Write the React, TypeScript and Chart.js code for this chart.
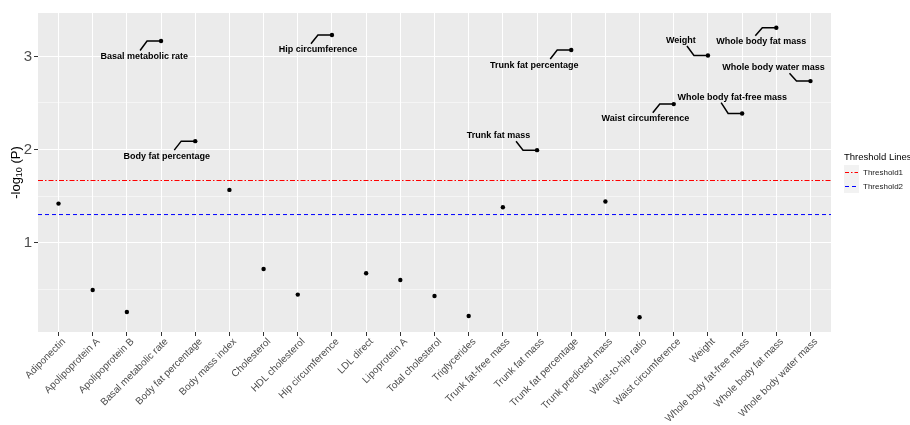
import React, { useEffect, useRef } from "react";
import { Chart, registerables } from "chart.js";

Chart.register(...registerables);

const categories = [
  "Adiponectin", "Apolipoprotein A", "Apolipoprotein B", "Basal metabolic rate",
  "Body fat percentage", "Body mass index", "Cholesterol", "HDL cholesterol",
  "Hip circumference", "LDL direct", "Lipoprotein A", "Total cholesterol",
  "Triglycerides", "Trunk fat-free mass", "Trunk fat mass", "Trunk fat percentage",
  "Trunk predicted mass", "Waist-to-hip ratio", "Waist circumference", "Weight",
  "Whole body fat-free mass", "Whole body fat mass", "Whole body water mass",
];

const logP = [
  1.419, 0.49, 0.254, 3.166, 2.09, 1.566, 0.716, 0.441, 3.23, 0.67, 0.598, 0.426,
  0.211, 1.38, 1.993, 3.069, 1.441, 0.197, 2.488, 3.011, 2.387, 3.309, 2.735,
];

const threshold1 = 1.667;
const threshold2 = 1.301;

const yTicks = [0.5, 1, 1.5, 2, 2.5, 3];
const yMin = 0.039;
const yMax = 3.467;

// Labelled points (ggrepel style)
const labelNames = [
  "Basal metabolic rate", "Body fat percentage", "Hip circumference",
  "Trunk fat mass", "Trunk fat percentage", "Waist circumference", "Weight",
  "Whole body fat-free mass", "Whole body fat mass", "Whole body water mass",
];
const labelDx = [-0.49, -0.83, -0.41, -1.13, -1.08, -0.83, -0.79, -0.29, -0.44, -1.08];
const labelY = [3.0, 1.929, 3.072, 2.147, 2.908, 2.33, 3.172, 2.563, 3.158, 2.878];

const FONT = '"Liberation Sans", Arial, Helvetica, sans-serif';

const decorPlugin = {
  id: "decor",
  beforeDraw(chart: any) {
    const { ctx, chartArea } = chart;
    ctx.save();
    ctx.fillStyle = "#ffffff";
    ctx.fillRect(0, 0, chart.width, chart.height);
    ctx.fillStyle = "#EBEBEB";
    ctx.fillRect(chartArea.left, chartArea.top, chartArea.right - chartArea.left, chartArea.bottom - chartArea.top);
    ctx.restore();
  },
  afterDatasetsDraw(chart: any) {
    const { ctx, chartArea } = chart;
    const xs = chart.scales.x;
    const ys = chart.scales.y;
    ctx.save();
    // repel labels and leader segments
    ctx.font = `bold 9px ${FONT}`;
    ctx.textAlign = "center";
    ctx.textBaseline = "middle";
    labelNames.forEach((name, k) => {
      const idx = categories.indexOf(name);
      const px = xs.getPixelForValue(idx);
      const py = ys.getPixelForValue(logP[idx]);
      const lx = xs.getPixelForValue(idx + labelDx[k]);
      const ly = ys.getPixelForValue(labelY[k]);
      const ex = px - 14;
      const endY = ly > py ? ly - 6 : ly + 5.5;
      ctx.strokeStyle = "#000";
      ctx.lineWidth = 1.5;
      ctx.beginPath();
      ctx.moveTo(px, py);
      ctx.lineTo(ex, py);
      ctx.lineTo(ex - 7, endY);
      ctx.stroke();
      ctx.fillStyle = "#000";
      ctx.fillText(name, lx, ly);
    });

    // x tick labels
    ctx.font = `10px ${FONT}`;
    ctx.fillStyle = "#4D4D4D";
    ctx.textAlign = "right";
    ctx.textBaseline = "top";
    categories.forEach((c, i) => {
      const x = xs.getPixelForValue(i);
      ctx.save();
      ctx.translate(x + 2, chartArea.bottom + 4.5);
      ctx.rotate(-Math.PI / 4);
      ctx.fillText(c, 0, 0);
      ctx.restore();
    });

    // y axis title with subscript
    ctx.save();
    const cy = (chartArea.top + chartArea.bottom) / 2;
    ctx.translate(16, cy);
    ctx.rotate(-Math.PI / 2);
    ctx.fillStyle = "#000";
    ctx.textAlign = "left";
    ctx.textBaseline = "middle";
    const big = `13px ${FONT}`;
    const small = `9px ${FONT}`;
    ctx.font = big;
    const w1 = ctx.measureText("-log").width;
    const w3 = ctx.measureText(" (P)").width;
    ctx.font = small;
    const w2 = ctx.measureText("10").width;
    const total = w1 + w2 + w3;
    let tx = -total / 2;
    ctx.font = big;
    ctx.fillText("-log", tx, 0);
    tx += w1;
    ctx.font = small;
    ctx.fillText("10", tx, 4);
    tx += w2;
    ctx.font = big;
    ctx.fillText(" (P)", tx, 0);
    ctx.restore();

    // legend
    const lx0 = chartArea.right + 13;
    ctx.fillStyle = "#000";
    ctx.textAlign = "left";
    ctx.textBaseline = "middle";
    ctx.font = `9.5px ${FONT}`;
    ctx.fillText("Threshold Lines", lx0, 157);
    const keys = [
      { label: "Threshold1", color: "#FF0000", dash: [4, 2, 1.5, 2] },
      { label: "Threshold2", color: "#0000FF", dash: [4, 3] },
    ];
    keys.forEach((k, j) => {
      const top = 165 + j * 14;
      ctx.fillStyle = "#F2F2F2";
      ctx.fillRect(lx0, top, 15, 14);
      ctx.strokeStyle = k.color;
      ctx.lineWidth = 1;
      ctx.setLineDash(k.dash);
      ctx.beginPath();
      ctx.moveTo(lx0 + 1, top + 7.5);
      ctx.lineTo(lx0 + 14, top + 7.5);
      ctx.stroke();
      ctx.setLineDash([]);
      ctx.fillStyle = "#1A1A1A";
      ctx.font = `8px ${FONT}`;
      ctx.fillText(k.label, lx0 + 19, top + 7.5);
    });
    ctx.restore();
  },
};

export default function App() {
  const ref = useRef<HTMLCanvasElement | null>(null);
  useEffect(() => {
    if (!ref.current) return;
    const points = logP.map((v, i) => ({ x: i, y: v }));
    const chart = new Chart(ref.current, {
      type: "scatter",
      data: {
        datasets: [
          {
            label: "Threshold1",
            data: [{ x: -0.6, y: threshold1 }, { x: categories.length - 0.4, y: threshold1 }],
            showLine: true,
            borderColor: "#FF0000",
            borderWidth: 1,
            borderDash: [5, 2, 1.5, 2],
            pointRadius: 0,
          },
          {
            label: "Threshold2",
            data: [{ x: -0.6, y: threshold2 }, { x: categories.length - 0.4, y: threshold2 }],
            showLine: true,
            borderColor: "#0000FF",
            borderWidth: 1,
            borderDash: [4, 3],
            pointRadius: 0,
          },
          {
            label: "points",
            data: points,
            pointRadius: 2.2,
            pointBackgroundColor: "#000",
            pointBorderColor: "#000",
            pointBorderWidth: 0,
          },
        ],
      },
      options: {
        responsive: false,
        animation: false,
        devicePixelRatio: 1,
        layout: { padding: { left: 0, top: 13, right: 79, bottom: 0 } },
        plugins: { legend: { display: false }, tooltip: { enabled: false } },
        scales: {
          x: {
            type: "linear",
            min: -0.6,
            max: categories.length - 0.4,
            afterBuildTicks: (axis: any) => {
              axis.ticks = categories.map((_, i) => ({ value: i }));
            },
            afterFit: (axis: any) => {
              axis.height = 93;
            },
            ticks: { display: false },
            grid: {
              color: "#FFFFFF",
              lineWidth: 1,
              tickColor: "#333333",
              tickLength: 4,
              drawTicks: true,
            },
            border: { display: false },
          },
          y: {
            type: "linear",
            min: yMin,
            max: yMax,
            afterBuildTicks: (axis: any) => {
              axis.ticks = yTicks.map((v) => ({ value: v }));
            },
            afterFit: (axis: any) => {
              axis.width = 38;
            },
            ticks: {
              font: { size: 15, family: FONT },
              color: "#4D4D4D",
              padding: 2,
              callback: (v: any) => (Number(v) % 1 === 0 ? String(v) : ""),
            },
            grid: {
              color: "#FFFFFF",
              lineWidth: (c: any) => (c.tick && c.tick.value % 1 === 0 ? 1 : 0.5),
              tickColor: (c: any) => (c.tick && c.tick.value % 1 === 0 ? "#333333" : "rgba(0,0,0,0)"),
              tickLength: 4,
              drawTicks: true,
            },
            border: { display: false },
          },
        },
      },
      plugins: [decorPlugin],
    } as any);
    return () => chart.destroy();
  }, []);
  return (
    <div style={{ position: "fixed", left: 0, top: 0, width: 910, height: 425, background: "#fff" }}>
      <canvas ref={ref} width={910} height={425} style={{ width: 910, height: 425, display: "block" }} />
    </div>
  );
}
